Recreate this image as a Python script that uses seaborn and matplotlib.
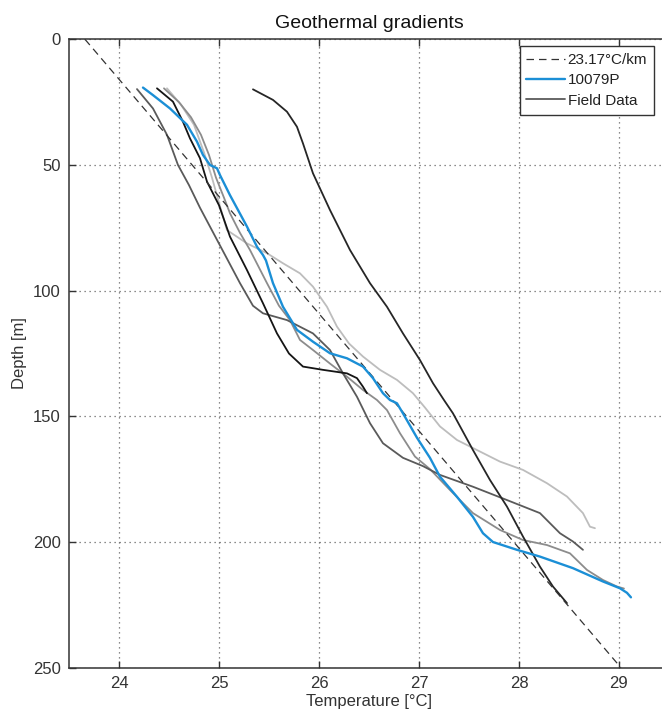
import numpy as np
import pandas as pd
import matplotlib
matplotlib.use("Agg")
import matplotlib.pyplot as plt
from matplotlib.lines import Line2D
import seaborn as sns

# Linear gradient reference line (surface -> bottom of section)
grad_label = "23.17°C/km"
grad_depth = [0, 250]
grad_temp = [23.66, 29.02]

# Well 10079P temperature log
p10079_temp = [24.24, 24.34, 24.51, 24.68, 24.78, 24.84, 24.91, 24.98, 25.01, 25.11,
               25.28, 25.38, 25.44, 25.47, 25.54, 25.64, 25.73, 25.78, 25.94, 26.11,
               26.28, 26.44, 26.54, 26.64, 26.71, 26.78, 26.84, 26.98, 27.11, 27.21,
               27.38, 27.54, 27.64, 27.74, 27.98, 28.21, 28.54, 28.84, 29.01, 29.08, 29.12]
p10079_depth = [19.2, 22.2, 27.5, 34.0, 40.7, 46.0, 50.0, 51.3, 54.0, 62.0,
                74.5, 82.5, 85.8, 88.0, 97.0, 106.4, 112.3, 115.6, 120.3, 124.9,
                126.9, 130.2, 134.8, 140.8, 143.5, 144.8, 148.8, 158.5, 166.5, 174.0,
                182.0, 190.0, 196.5, 200.0, 203.1, 205.8, 210.4, 215.7, 218.4, 220.2, 222.0]

# Field data profiles
fd1_temp = [25.34, 25.54, 25.68, 25.78, 25.84, 25.94, 26.11, 26.31, 26.51, 26.68, 26.84,
            27.01, 27.14, 27.25, 27.34, 27.54, 27.71, 27.88, 28.04, 28.21, 28.34, 28.48]
fd1_depth = [19.9, 24.1, 28.8, 34.8, 41.4, 53.3, 67.9, 83.8, 97.0, 106.4, 117.0,
             127.6, 136.8, 143.5, 148.8, 163.4, 175.3, 185.9, 197.8, 209.8, 217.7, 224.3]

fd2_temp = [24.38, 24.54, 24.64, 24.71, 24.81, 24.88, 25.00, 25.11, 25.28, 25.44, 25.58,
            25.70, 25.84, 26.04, 26.28, 26.38, 26.44, 26.48]
fd2_depth = [19.5, 24.8, 32.8, 39.4, 47.3, 56.6, 66.0, 78.5, 91.8, 105.0, 117.0,
             125.0, 130.2, 131.5, 132.9, 134.8, 138.2, 140.8]

fd3_temp = [24.18, 24.34, 24.48, 24.59, 24.70, 24.81, 25.01, 25.21, 25.34, 25.44, 25.68,
            25.94, 26.11, 26.24, 26.38, 26.51, 26.64, 26.84, 27.04, 27.21, 27.54, 27.88,
            28.21, 28.41, 28.54, 28.64]
fd3_depth = [19.8, 27.5, 38.0, 50.0, 58.0, 67.0, 82.0, 97.0, 106.0, 109.0, 111.7,
             117.0, 123.6, 132.9, 142.2, 152.7, 160.7, 166.5, 169.8, 173.3, 178.0, 183.3,
             188.5, 196.5, 199.8, 203.1]

fd4_temp = [24.45, 24.60, 24.72, 24.82, 24.90, 24.97, 25.05, 25.11, 25.21, 25.31, 25.48,
            25.60, 25.71, 25.81, 25.94, 26.11, 26.28, 26.44, 26.58, 26.68, 26.81, 26.96,
            27.11, 27.31, 27.54, 27.81, 28.04, 28.28, 28.51, 28.68, 28.84, 28.98, 29.05]
fd4_depth = [19.5, 25.0, 31.0, 38.0, 46.0, 55.0, 63.0, 69.2, 77.0, 83.8, 97.0,
             106.0, 111.7, 119.6, 123.6, 129.0, 134.2, 139.5, 143.5, 147.5, 156.7, 166.0,
             171.0, 179.3, 188.5, 195.2, 199.2, 201.2, 204.5, 211.1, 215.1, 217.7, 218.5]

fd5_temp = [24.48, 24.62, 24.75, 24.85, 24.93, 25.00, 25.08, 25.28, 25.48, 25.64, 25.81,
            25.94, 26.08, 26.18, 26.30, 26.44, 26.61, 26.78, 26.94, 27.06, 27.21, 27.38,
            27.58, 27.81, 28.04, 28.28, 28.48, 28.64, 28.71, 28.76]
fd5_depth = [19.5, 26.0, 34.0, 45.0, 55.0, 65.0, 75.9, 81.2, 85.1, 89.1, 93.1,
             98.4, 106.4, 114.3, 121.0, 126.2, 131.5, 135.5, 140.8, 146.5, 154.0, 159.4,
             163.4, 168.0, 171.3, 176.6, 181.9, 188.5, 193.9, 194.5]

profiles = {
    "fd5": (fd5_temp, fd5_depth, "#bdbdbd"),
    "fd4": (fd4_temp, fd4_depth, "#8c8c8c"),
    "fd3": (fd3_temp, fd3_depth, "#5a5a5a"),
    "fd2": (fd2_temp, fd2_depth, "#151515"),
    "fd1": (fd1_temp, fd1_depth, "#262626"),
}

sns.set_theme(style="ticks")
plt.rcParams["font.family"] = ["Liberation Sans", "DejaVu Sans"]

fig = plt.figure(figsize=(6.62, 7.11), dpi=100)
ax = fig.add_axes([0.1042, 0.0609, 0.9063, 0.8838])

# Field data
rows = []
for name, (t, d, _) in profiles.items():
    rows.append(pd.DataFrame({"temp": t, "depth": d, "profile": name}))
field = pd.concat(rows, ignore_index=True)
sns.lineplot(data=field, x="temp", y="depth", hue="profile",
             palette={k: v[2] for k, v in profiles.items()},
             sort=False, estimator=None, linewidth=1.3, legend=False, ax=ax)

# Gradient line
grad = pd.DataFrame({"temp": grad_temp, "depth": grad_depth})
sns.lineplot(data=grad, x="temp", y="depth", color="#333333", linewidth=0.9,
             sort=False, estimator=None, ax=ax)
ax.lines[-1].set_dashes((6, 4))

# Well 10079P
well = pd.DataFrame({"temp": p10079_temp, "depth": p10079_depth})
sns.lineplot(data=well, x="temp", y="depth", color="#1b8fd6", linewidth=1.7,
             sort=False, estimator=None, ax=ax)

ax.set_xlim(23.5, 29.5)
ax.set_ylim(250, 0)
ax.set_xticks([24, 25, 26, 27, 28, 29])
ax.set_yticks([0, 50, 100, 150, 200, 250])
ax.grid(True, color="#666666", linestyle=(0, (1, 3)), linewidth=0.9)

for s in ax.spines.values():
    s.set_color("#333333")
    s.set_linewidth(1.1)
ax.tick_params(direction="in", top=True, right=True, length=5, width=1,
               color="#333333", labelsize=12, labelcolor="#333333", pad=6)

ax.set_title("Geothermal gradients", fontsize=14, color="#111111", pad=8)
ax.set_xlabel("Temperature [°C]", fontsize=12, color="#333333", labelpad=2)
ax.set_ylabel("Depth [m]", fontsize=12, color="#333333", labelpad=4)

handles = [
    Line2D([], [], color="#333333", linewidth=0.9, dashes=(6, 4)),
    Line2D([], [], color="#1b8fd6", linewidth=1.7),
    Line2D([], [], color="#5a5a5a", linewidth=1.3),
]
leg = ax.legend(handles, [grad_label, "10079P", "Field Data"],
                loc="upper right", bbox_to_anchor=(654 / 662, 1 - 46 / 711),
                bbox_transform=fig.transFigure, borderaxespad=0, fontsize=11,
                frameon=True, fancybox=False, handlelength=2.5, handletextpad=0.2,
                labelspacing=0.42, borderpad=0.45)
leg.get_frame().set_edgecolor("#333333")
leg.get_frame().set_linewidth(1.0)
leg.get_frame().set_alpha(1)
for t in leg.get_texts():
    t.set_color("#222222")

fig.savefig("out.png", dpi=100)
